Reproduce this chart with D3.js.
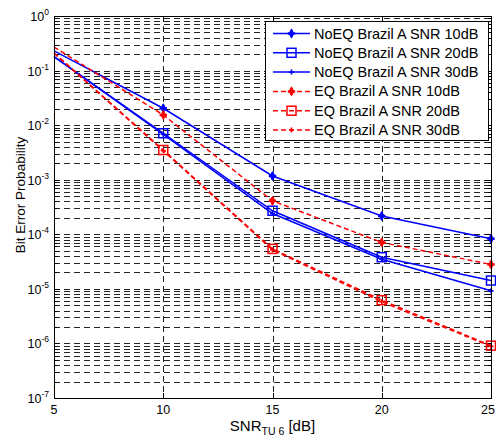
<!DOCTYPE html>
<html>
<head>
<meta charset="utf-8">
<script src="https://cdn.jsdelivr.net/npm/d3@7"></script>
<style>
  body { margin: 0; background: #fff; }
  svg { font-family: "Liberation Sans", Arial, sans-serif; }
</style>
</head>
<body>
<div class="viz"></div>
<script>
// SNR values on x axis
const snr = [5, 10, 15, 20, 25]
const xTicks = [5, 10, 15, 20, 25]
const yDecades = [0, -1, -2, -3, -4, -5, -6, -7]

// bit error probability per curve
const noeq10 = [0.23, 0.0204, 0.00117, 0.000217, 0.000083]
const noeq20 = [0.18, 0.0071, 0.00027, 0.000038, 0.0000142]
const noeq30 = [0.18, 0.0068, 0.00024, 0.000035, 0.0000092]
const eq10 = [0.27, 0.0154, 0.00041, 0.000071, 0.000028]
const eq20 = [0.21, 0.0035, 0.000054, 0.0000062, 0.00000091]
const eq30 = [0.21, 0.0034, 0.000052, 0.0000058, 0.00000088]

const seriesNames = [
  "NoEQ Brazil A SNR 10dB", "NoEQ Brazil A SNR 20dB", "NoEQ Brazil A SNR 30dB",
  "EQ Brazil A SNR 10dB", "EQ Brazil A SNR 20dB", "EQ Brazil A SNR 30dB"
]
const seriesValues = [noeq10, noeq20, noeq30, eq10, eq20, eq30]
const seriesColor = ["#0000ff", "#0000ff", "#0000ff", "#ff0000", "#ff0000", "#ff0000"]
const seriesDash = [null, null, null, "5,3", "5,3", "5,3"]
const seriesMarker = ["star", "square", "dot", "star", "square", "dot"]

const w = 496, h = 439
const m = {left: 54, right: 5, top: 16, bottom: 41}
const iw = w - m.left - m.right
const ih = h - m.top - m.bottom

const svg = d3.select(".viz").append("svg")
  .attr("width", w).attr("height", h)

const x = d3.scaleLinear().domain([5, 25]).range([m.left, m.left + iw])
const y = d3.scaleLog().domain([1e-7, 1]).range([m.top + ih, m.top])

// minor + major values for horizontal grid
let yGrid = []
for (let e = -7; e < 0; e++) {
  for (let k = 1; k <= 9; k++) yGrid.push(k * Math.pow(10, e))
}
yGrid.push(1)

const grid = svg.append("g")
grid.selectAll("line.hg").data(yGrid.filter(v => v > 1e-7 && v < 1)).enter().append("line")
  .attr("x1", m.left).attr("x2", m.left + iw)
  .attr("y1", d => Math.round(y(d)) + 0.5).attr("y2", d => Math.round(y(d)) + 0.5)
  .attr("stroke", "#222").attr("stroke-width", 1)
  .attr("stroke-dasharray", "6,4")
grid.selectAll("line.vg").data([10, 15, 20]).enter().append("line")
  .attr("x1", d => Math.round(x(d)) + 0.5).attr("x2", d => Math.round(x(d)) + 0.5)
  .attr("y1", m.top).attr("y2", m.top + ih)
  .attr("stroke", "#222").attr("stroke-width", 1)
  .attr("stroke-dasharray", "6,4")

// ticks (inward, both sides)
const tk = svg.append("g").attr("stroke", "#000").attr("stroke-width", 1)
yGrid.forEach(v => {
  const yy = Math.round(y(v)) + 0.5
  const major = Math.abs(Math.log10(v) - Math.round(Math.log10(v))) < 1e-9
  const len = major ? 5 : 3
  tk.append("line").attr("x1", m.left).attr("x2", m.left + len).attr("y1", yy).attr("y2", yy)
  tk.append("line").attr("x1", m.left + iw).attr("x2", m.left + iw - len).attr("y1", yy).attr("y2", yy)
})
xTicks.forEach(v => {
  const xx = Math.round(x(v)) + 0.5
  tk.append("line").attr("x1", xx).attr("x2", xx).attr("y1", m.top + ih).attr("y2", m.top + ih - 5)
  tk.append("line").attr("x1", xx).attr("x2", xx).attr("y1", m.top).attr("y2", m.top + 5)
})

// tick labels
svg.selectAll("text.xt").data(xTicks).enter().append("text")
  .attr("x", d => Math.min(x(d), w - 8)).attr("y", m.top + ih + 16)
  .attr("text-anchor", "middle").attr("font-size", 12.5)
  .text(d => d)

const yl = svg.selectAll("text.yt").data(yDecades).enter().append("text")
  .attr("x", m.left - 5).attr("y", d => y(Math.pow(10, d)) + 5)
  .attr("text-anchor", "end").attr("font-size", 12.5)
yl.append("tspan").text("10")
yl.append("tspan").attr("font-size", 8.5).attr("dy", -6).text(d => d)

// axis titles
svg.append("text")
  .attr("transform", "translate(25," + 195 + ") rotate(-90)")
  .attr("text-anchor", "middle").attr("font-size", 13.5)
  .text("Bit Error Probability")

const xl = svg.append("text")
  .attr("x", m.left + iw / 2).attr("y", h - 8)
  .attr("text-anchor", "middle").attr("font-size", 15)
xl.append("tspan").text("SNR")
xl.append("tspan").attr("font-size", 10.5).attr("dy", 4).text("TU 6")
xl.append("tspan").attr("dy", -4).text(" [dB]")

// curves
const line = d3.line().x((d, i) => x(snr[i])).y(d => y(d))

function drawMarker(g, type, cx, cy, color) {
  if (type == "square") {
    g.append("rect").attr("x", cx - 4.5).attr("y", cy - 4.5).attr("width", 9).attr("height", 9)
      .attr("fill", "none").attr("stroke", color).attr("stroke-width", 1.5)
  } else if (type == "star") {
    g.append("path").attr("transform", "translate(" + cx + "," + cy + ")")
      .attr("d", d3.symbol().type(d3.symbolDiamond).size(30)())
      .attr("fill", color)
    g.append("path").attr("transform", "translate(" + cx + "," + cy + ")")
      .attr("d", d3.symbol().type(d3.symbolCross).size(30)())
      .attr("fill", color)
  } else {
    g.append("path").attr("transform", "translate(" + cx + "," + cy + ")")
      .attr("d", d3.symbol().type(d3.symbolCross).size(14)())
      .attr("fill", color)
  }
}

const curves = svg.append("g")
seriesValues.forEach((vals, s) => {
  curves.append("path").datum(vals)
    .attr("d", line)
    .attr("fill", "none")
    .attr("stroke", seriesColor[s]).attr("stroke-width", 1.5)
    .attr("stroke-dasharray", seriesDash[s])
  vals.forEach((v, i) => {
    if (snr[i] == 5) return
    drawMarker(curves, seriesMarker[s], x(snr[i]), y(v), seriesColor[s])
  })
})

// frame
svg.append("rect")
  .attr("x", m.left + 0.5).attr("y", m.top + 0.5)
  .attr("width", iw).attr("height", ih)
  .attr("fill", "none").attr("stroke", "#000").attr("stroke-width", 1)

// legend
const lg = svg.append("g").attr("transform", "translate(265,21)")
lg.append("rect").attr("x", 0.5).attr("y", 0.5).attr("width", 223).attr("height", 119)
  .attr("fill", "#fff").attr("stroke", "#000").attr("stroke-width", 1)
seriesNames.forEach((name, s) => {
  const yy = 12.5 + s * 19.3
  lg.append("line").attr("x1", 8).attr("x2", 45).attr("y1", yy).attr("y2", yy)
    .attr("stroke", seriesColor[s]).attr("stroke-width", 1.5)
    .attr("stroke-dasharray", seriesDash[s])
  drawMarker(lg, seriesMarker[s], 26.5, yy, seriesColor[s])
  lg.append("text").attr("x", 49).attr("y", yy + 5)
    .attr("font-size", 14.5).text(name)
})
</script>
</body>
</html>
